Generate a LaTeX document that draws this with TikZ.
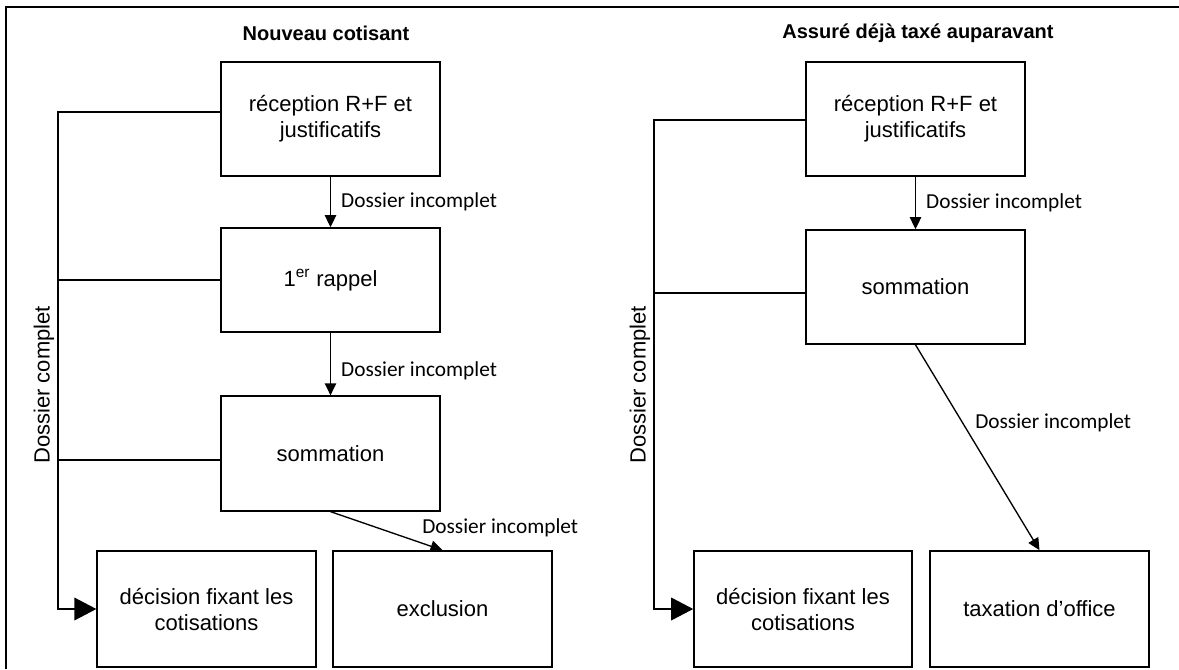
\documentclass[tikz,border=0pt]{standalone}
\usepackage{fontspec}
\setmainfont{Liberation Sans}
\newfontfamily\calib{Carlito}
\usetikzlibrary{arrows.meta}
\tikzset{
  box/.style={draw, line width=1.2pt, align=center, inner sep=2pt, font=\fontsize{16.5}{19.5}\selectfont},
  ttl/.style={font=\bfseries\fontsize{15}{18}\selectfont},
  lbl/.style={font=\calib\fontsize{16}{19}\selectfont, inner sep=0pt, anchor=west},
  side/.style={font=\fontsize{16.5}{19}\selectfont, rotate=90, inner sep=0pt},
  conn/.style={line width=1pt},
  arr/.style={conn, -{Triangle[length=9pt,width=8.5pt]}},
  bigarr/.style={conn, -{Triangle[length=16.5pt,width=17pt]}}
}
\begin{document}
\begin{tikzpicture}[x=0.75pt,y=-0.75pt]
\useasboundingbox (0,0) rectangle (1179,669);
\draw[line width=2pt] (6,669) -- (6,7) -- (1179,7);
% left panel
\node[ttl] (t1) at (326,33) {Nouveau cotisant};
\node[box, minimum width=164pt, minimum height=85.5pt] (a1) at (330.5,119) {réception R+F et\\justificatifs};
\node[box, minimum width=164pt, minimum height=78pt] (a2) at (330.5,280) {1\textsuperscript{er} rappel};
\node[box, minimum width=164pt, minimum height=86pt] (a3) at (330.5,453.5) {sommation};
\node[box, minimum width=164pt, minimum height=87pt] (a4) at (206.5,609) {décision fixant les\\cotisations};
\node[box, minimum width=164pt, minimum height=87pt] (a5) at (442.5,609) {exclusion};
\coordinate (la) at (58,112);
\coordinate (la3) at (58,460);
\draw[arr] (a1.south) -- (a2.north) node[lbl, pos=0.5, xshift=7.5pt] (l1) {Dossier incomplet};
\draw[arr] (a2.south) -- (a3.north) node[lbl, pos=0.6, xshift=7.5pt] (l2) {Dossier incomplet};
\draw[arr] (a3.south) -- (a5.north);
\node[lbl] (l3) at (422,528) {Dossier incomplet};
\draw[bigarr] (a1.west |- la) -- (la) -- (la |- a4.west) -- (a4.west);
\draw[conn] (a2.west) -- (a2.west -| la);
\draw[conn] (a3.west |- la3) -- (la3);
\node[side] (s1) at (44,385) {Dossier complet};
% right panel
\node[ttl] (t2) at (918,33) {Assuré déjà taxé auparavant};
\node[box, minimum width=164pt, minimum height=85.5pt] (b1) at (915.5,119) {réception R+F et\\justificatifs};
\node[box, minimum width=164pt, minimum height=85.5pt] (b2) at (915.5,287) {sommation};
\node[box, minimum width=163.5pt, minimum height=87pt] (b4) at (803,609) {décision fixant les\\cotisations};
\node[box, minimum width=164pt, minimum height=87pt] (b5) at (1039.5,609) {taxation d’office};
\coordinate (lb) at (654,120);
\coordinate (lb2) at (654,293);
\draw[arr] (b1.south) -- (b2.north) node[lbl, pos=0.5, xshift=7.5pt] (m1) {Dossier incomplet};
\draw[arr] (b2.south) -- (b5.north);
\node[lbl] (m2) at (975,423) {Dossier incomplet};
\draw[bigarr] (b1.west |- lb) -- (lb) -- (lb |- b4.west) -- (b4.west);
\draw[conn] (b2.west |- lb2) -- (lb2);
\node[side] (s2) at (640,385) {Dossier complet};
\end{tikzpicture}
\end{document}
